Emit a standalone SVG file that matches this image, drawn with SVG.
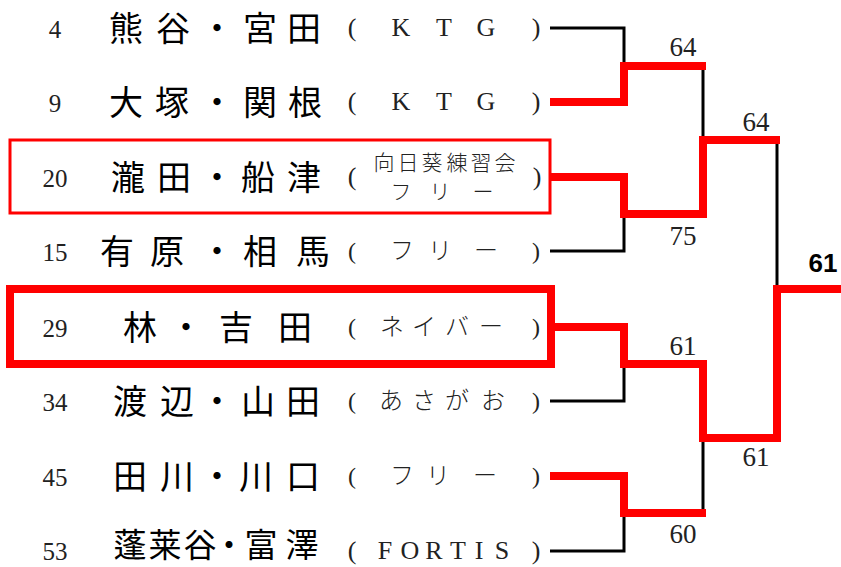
<svg xmlns="http://www.w3.org/2000/svg" width="841" height="567" viewBox="0 0 841 567">
<style>
.num{font-family:"Liberation Serif",serif;font-size:25px;fill:#222;text-anchor:middle}
.name{font-family:"Noto Sans CJK JP",sans-serif;font-size:34px;font-weight:400;fill:#000;text-anchor:middle}
.team{font-family:"Liberation Serif","Noto Sans CJK JP",serif;font-size:26px;font-weight:300;fill:#222;text-anchor:middle}
.kana{font-family:"Liberation Serif","Noto Sans CJK JP",serif;font-size:24px;font-weight:300;fill:#222;text-anchor:middle}
.small{font-family:"Noto Sans CJK JP",sans-serif;font-size:21px;font-weight:300;fill:#222;text-anchor:middle}
.score{font-family:"Liberation Serif",serif;font-size:27px;fill:#222;text-anchor:middle}
.final{font-family:"Liberation Sans",sans-serif;font-size:26px;font-weight:bold;fill:#000;text-anchor:middle}
.blk{fill:none;stroke:#000;stroke-width:3}
.red{fill:none;stroke:#ff0000;stroke-width:8;stroke-linejoin:miter}
</style>
<rect width="841" height="567" fill="#fff"/>
<g id="connectors">
<path class="blk" d="M550,28 H624 V66"/>
<path class="blk" d="M550,251 H624 V214"/>
<path class="blk" d="M550,401 H624 V364"/>
<path class="blk" d="M550,551 H624 V513"/>
<path class="blk" d="M703,66 V140"/>
<path class="blk" d="M703,438 V513"/>
<path class="blk" d="M777,140 V289"/>
<path class="red" d="M550,102 H624 V66 H706"/>
<path class="red" d="M551,177 H624 V214 H703 V140 H780"/>
<path class="red" d="M551,327 H624 V364 H703 V438 H777 V289 H841"/>
<path class="red" d="M550,476 H624 V513 H706"/>
</g>
<g id="scores">
<text class="score" x="683" y="56">64</text>
<text class="score" x="756" y="131">64</text>
<text class="score" x="683" y="245">75</text>
<text class="score" x="683" y="355">61</text>
<text class="score" x="756" y="466">61</text>
<text class="score" x="683" y="543">60</text>
<text class="final" x="823" y="272">61</text>
</g>
<g id="p1">
<text class="num" x="55" y="38">4</text>
<text class="name" x="126 173 217 260 304" y="41">熊谷・宮田</text>
<text class="team" x="352 401 444 486 536" y="36">(KTG)</text>
</g>
<g id="p2">
<text class="num" x="55" y="112">9</text>
<text class="name" x="126 172 217 260 305" y="115">大塚・関根</text>
<text class="team" x="352 401 444 486 536" y="110">(KTG)</text>
</g>
<g id="p3">
<rect x="10" y="140" width="540" height="73" fill="none" stroke="#ff0000" stroke-width="3"/>
<text class="num" x="55" y="187">20</text>
<text class="name" x="128 174 217 258 304" y="190">瀧田・船津</text>
<text class="team" x="352" y="185">(</text>
<text class="team" x="537" y="185">)</text>
<text class="small" x="384 408 432 457 481 505" y="170">向日葵練習会</text>
<text class="small" x="401 440 483" y="199">フリー</text>
</g>
<g id="p4">
<text class="num" x="55" y="261">15</text>
<text class="name" x="117 167 217 260 313" y="264">有原・相馬</text>
<text class="kana" x="352 402 440 486 536" y="259">(フリー)</text>
</g>
<g id="p5">
<rect x="10" y="289" width="541" height="75" fill="none" stroke="#ff0000" stroke-width="8"/>
<text class="num" x="55" y="337">29</text>
<text class="name" x="140 186 236 295" y="340">林・吉田</text>
<text class="kana" x="352 392 424 457 491 536" y="335">(ネイバー)</text>
</g>
<g id="p6">
<text class="num" x="55" y="411">34</text>
<text class="name" x="130 177 217 258 303" y="414">渡辺・山田</text>
<text class="kana" x="352 391 424 457 493 536" y="409">(あさがお)</text>
</g>
<g id="p7">
<text class="num" x="55" y="486">45</text>
<text class="name" x="130 177 217 256 303" y="489">田川・川口</text>
<text class="kana" x="352 402 438 485 536" y="484">(フリー)</text>
</g>
<g id="p8">
<text class="num" x="55" y="560">53</text>
<text class="name" x="130 165 200 229 261 302" y="557" style="font-size:33px">蓬莱谷・富澤</text>
<text class="team" x="352 385 410 434 458 479 502 536" y="559">(FORTIS)</text>
</g>
</svg>
